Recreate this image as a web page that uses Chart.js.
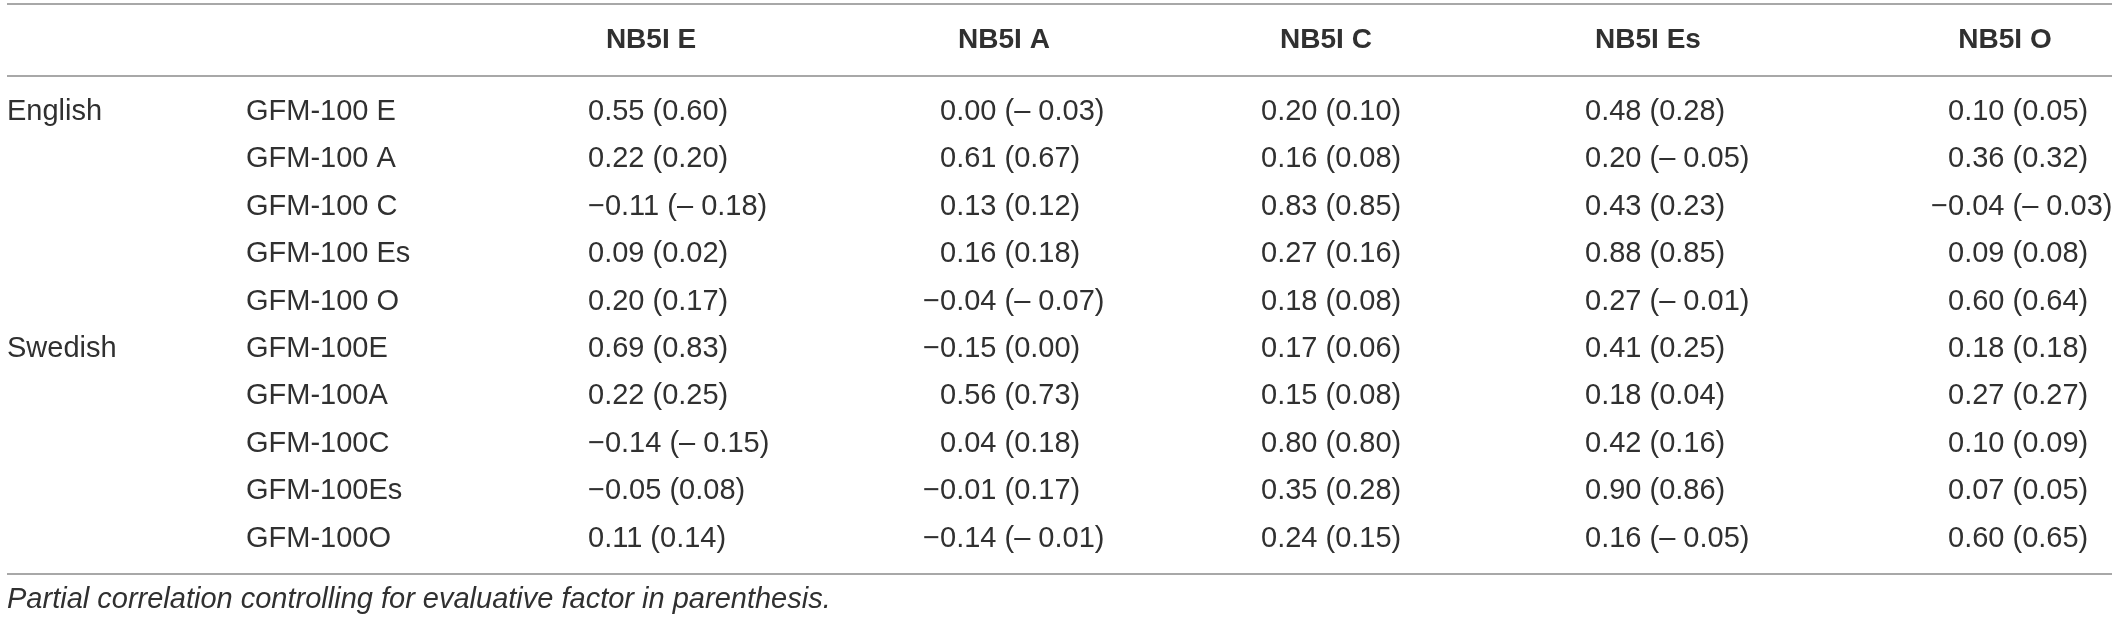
<!DOCTYPE html>
<html>
<head>
<meta charset="utf-8">
<script src="https://cdn.jsdelivr.net/npm/chart.js@4"></script>
<style>
  html, body { margin: 0; padding: 0; background: #fff; }
  canvas { display: block; }
</style>
</head>
<body>
<canvas id="tableChart" width="2117" height="622"></canvas>
<script>
// table data
const columns = ['NB5I E', 'NB5I A', 'NB5I C', 'NB5I Es', 'NB5I O'];
const languages = ['English', 'Swedish'];
const languageRows = [0, 5];
const items = ['GFM-100 E', 'GFM-100 A', 'GFM-100 C', 'GFM-100 Es', 'GFM-100 O',
               'GFM-100E', 'GFM-100A', 'GFM-100C', 'GFM-100Es', 'GFM-100O'];

const corrE  = [0.55, 0.22, -0.11, 0.09, 0.20, 0.69, 0.22, -0.14, -0.05, 0.11];
const partE  = [0.60, 0.20, -0.18, 0.02, 0.17, 0.83, 0.25, -0.15, 0.08, 0.14];
const corrA  = [0.00, 0.61, 0.13, 0.16, -0.04, -0.15, 0.56, 0.04, -0.01, -0.14];
const partA  = [-0.03, 0.67, 0.12, 0.18, -0.07, 0.00, 0.73, 0.18, 0.17, -0.01];
const corrC  = [0.20, 0.16, 0.83, 0.27, 0.18, 0.17, 0.15, 0.80, 0.35, 0.24];
const partC  = [0.10, 0.08, 0.85, 0.16, 0.08, 0.06, 0.08, 0.80, 0.28, 0.15];
const corrEs = [0.48, 0.20, 0.43, 0.88, 0.27, 0.41, 0.18, 0.42, 0.90, 0.16];
const partEs = [0.28, -0.05, 0.23, 0.85, -0.01, 0.25, 0.04, 0.16, 0.86, -0.05];
const corrO  = [0.10, 0.36, -0.04, 0.09, 0.60, 0.18, 0.27, 0.10, 0.07, 0.60];
const partO  = [0.05, 0.32, -0.03, 0.08, 0.64, 0.18, 0.27, 0.09, 0.05, 0.65];

const footnote = 'Partial correlation controlling for evaluative factor in parenthesis.';

const corr = [corrE, corrA, corrC, corrEs, corrO];
const part = [partE, partA, partC, partEs, partO];

// layout (pixels on x, row units on y)
const langX = 7;
const itemX = 246;
const valueX = [588, 940, 1261, 1585, 1948];
const hangMinus = [false, true, true, true, true];
const headX = [651, 1004, 1326, 1648, 2005];
const headRow = -1.52;
const ruleRows = [-2.27, -0.76, 9.75];
const noteRow = 10.3;

const bodyFont = '29px "Liberation Sans", Arial, sans-serif';
const headFont = 'bold 28px "Liberation Sans", Arial, sans-serif';
const noteFont = 'italic 29px "Liberation Sans", Arial, sans-serif';
const ink = '#303030';

function fmt(v) { return Math.abs(v).toFixed(2); }

let datasets = [];
columns.forEach(function (c, j) {
    datasets.push({
        label: c,
        kind: 'value',
        col: j,
        data: items.map(function (it, i) { return { x: valueX[j], y: i }; }),
        pointRadius: 0
    });
});
datasets.push({ label: 'items', kind: 'item',
    data: items.map(function (it, i) { return { x: itemX, y: i }; }), pointRadius: 0 });
datasets.push({ label: 'languages', kind: 'lang',
    data: languageRows.map(function (r) { return { x: langX, y: r }; }), pointRadius: 0 });
datasets.push({ label: 'headers', kind: 'head',
    data: headX.map(function (x) { return { x: x, y: headRow }; }), pointRadius: 0 });

const tablePlugin = {
    id: 'tableText',
    afterDatasetsDraw(chart) {
        const ctx = chart.ctx;
        const ys = chart.scales.y;
        ctx.save();
        ctx.textBaseline = 'middle';
        ctx.fillStyle = ink;

        // rules
        ctx.strokeStyle = '#a8a8a8';
        ctx.lineWidth = 2;
        ruleRows.forEach(function (r) {
            const y = Math.round(ys.getPixelForValue(r));
            ctx.beginPath();
            ctx.moveTo(7, y);
            ctx.lineTo(2112, y);
            ctx.stroke();
        });

        chart.data.datasets.forEach(function (ds, d) {
            const meta = chart.getDatasetMeta(d);
            meta.data.forEach(function (pt, i) {
                if (ds.kind === 'value') {
                    const r = corr[ds.col][i], p = part[ds.col][i];
                    const txt = fmt(r) + ' (' + (p < 0 ? '\u2013 ' : '') + fmt(p) + ')';
                    ctx.font = bodyFont;
                    ctx.textAlign = 'left';
                    if (r < 0 && hangMinus[ds.col]) {
                        ctx.fillText(txt, pt.x, pt.y);
                        ctx.textAlign = 'right';
                        ctx.fillText('\u2212', pt.x, pt.y);
                    } else {
                        ctx.fillText((r < 0 ? '\u2212' : '') + txt, pt.x, pt.y);
                    }
                } else if (ds.kind === 'item') {
                    ctx.font = bodyFont;
                    ctx.textAlign = 'left';
                    ctx.fillText(items[i], pt.x, pt.y);
                } else if (ds.kind === 'lang') {
                    ctx.font = bodyFont;
                    ctx.textAlign = 'left';
                    ctx.fillText(languages[i], pt.x, pt.y);
                } else if (ds.kind === 'head') {
                    ctx.font = headFont;
                    ctx.textAlign = 'center';
                    ctx.fillText(columns[i], pt.x, pt.y);
                }
            });
        });

        ctx.font = noteFont;
        ctx.textAlign = 'left';
        ctx.fillText(footnote, 7, ys.getPixelForValue(noteRow));
        ctx.restore();
    }
};

let contextTable = document.querySelector('#tableChart').getContext('2d');

let config = {
    type: 'scatter',
    data: { datasets: datasets },
    options: {
        responsive: false,
        devicePixelRatio: 1,
        animation: false,
        layout: { padding: 0 },
        plugins: {
            legend: { display: false },
            tooltip: { enabled: false }
        },
        scales: {
            x: { type: 'linear', display: false, min: 0, max: 2117 },
            y: { type: 'linear', display: false, reverse: true, min: -2.363, max: 10.76 }
        }
    },
    plugins: [tablePlugin]
};

let tableChart = new Chart(contextTable, config);
</script>
</body>
</html>
